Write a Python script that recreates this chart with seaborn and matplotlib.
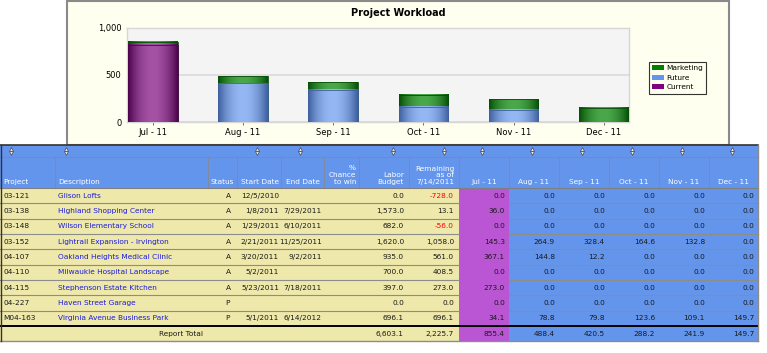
import matplotlib.pyplot as plt
import matplotlib.colors as mcolors
import numpy as np
import pandas as pd
import seaborn as sns
from matplotlib.patches import Patch, Rectangle
from matplotlib.ticker import FuncFormatter

plt.rcParams['font.family'] = ['DejaVu Sans']

# Chart data (hours per month)
months = ['Jul - 11', 'Aug - 11', 'Sep - 11', 'Oct - 11', 'Nov - 11', 'Dec - 11']
current = [821.3, 0.0, 0.0, 0.0, 0.0, 0.0]
future = [0.0, 409.7, 340.6, 164.6, 132.8, 0.0]
marketing = [34.1, 78.8, 79.8, 123.6, 109.1, 149.7]

# Table data
projects = ['03-121', '03-138', '03-148', '03-152', '04-107', '04-110', '04-115', '04-227', 'M04-163']
descriptions = ['Glison Lofts', 'Highland Shopping Center', 'Wilson Elementary School',
                'Lightrail Expansion - Irvington', 'Oakland Heights Medical Clinic',
                'Milwaukie Hospital Landscape', 'Stephenson Estate Kitchen', 'Haven Street Garage',
                'Virginia Avenue Business Park']
status = ['A', 'A', 'A', 'A', 'A', 'A', 'A', 'P', 'P']
start_dates = ['12/5/2010', '1/8/2011', '1/29/2011', '2/21/2011', '3/20/2011', '5/2/2011', '5/23/2011', '', '5/1/2011']
end_dates = ['', '7/29/2011', '6/10/2011', '11/25/2011', '9/2/2011', '', '7/18/2011', '', '6/14/2012']
labor_budget = [0.0, 1573.0, 682.0, 1620.0, 935.0, 700.0, 397.0, 0.0, 696.1]
remaining = [-728.0, 13.1, -56.0, 1058.0, 561.0, 408.5, 273.0, 0.0, 696.1]
jul = [0.0, 36.0, 0.0, 145.3, 367.1, 0.0, 273.0, 0.0, 34.1]
aug = [0.0, 0.0, 0.0, 264.9, 144.8, 0.0, 0.0, 0.0, 78.8]
sep = [0.0, 0.0, 0.0, 328.4, 12.2, 0.0, 0.0, 0.0, 79.8]
oct_ = [0.0, 0.0, 0.0, 164.6, 0.0, 0.0, 0.0, 0.0, 123.6]
nov = [0.0, 0.0, 0.0, 132.8, 0.0, 0.0, 0.0, 0.0, 109.1]
dec = [0.0, 0.0, 0.0, 0.0, 0.0, 0.0, 0.0, 0.0, 149.7]
total_budget = 6603.1
total_remaining = 2225.7
total_months = [855.4, 488.4, 420.5, 288.2, 241.9, 149.7]

W, H = 767, 353
BLUE = '#6495ED'
GOLD = '#EEE8AA'
ORCHID = '#BA55D3'
FS = 5.3


def px(l, t, r, b):
    return [l / W, 1 - b / H, (r - l) / W, (b - t) / H]


fig = plt.figure(figsize=(W / 100, H / 100), dpi=100)

# ---------- background + table (pixel coordinates) ----------
bg = fig.add_axes([0, 0, 1, 1], zorder=0)
bg.set_xlim(0, W)
bg.set_ylim(H, 0)
bg.axis('off')
bg.add_patch(Rectangle((67, 0.5), 662, 144.5, fc='#FFFFF0', ec='#8a8a8a', lw=1.5))

edges = [0, 55, 208, 237, 281, 324, 359, 409, 459, 509, 559, 609, 659, 709, 758]
sort_top, head_top, body_top, row_h = 145, 157, 188, 15.35
n = len(projects)
total_top = body_top + n * row_h
total_bot = total_top + 15

bg.add_patch(Rectangle((0, sort_top), 758, head_top - sort_top, fc=BLUE, lw=0))
bg.add_patch(Rectangle((0, head_top), 758, body_top - head_top, fc=BLUE, lw=0))
bg.add_patch(Rectangle((0, body_top), 459, total_bot - body_top, fc=GOLD, lw=0))
bg.add_patch(Rectangle((459, body_top), 50, total_bot - body_top, fc=ORCHID, lw=0))
bg.add_patch(Rectangle((509, body_top), 249, total_bot - body_top, fc=BLUE, lw=0))

for e in edges[1:-1]:
    bg.plot([e, e], [head_top, body_top], color='#7f8aa0', lw=0.8)
bg.plot([0, 758], [head_top, head_top], color='#7f8aa0', lw=0.8)
bg.plot([0, 758], [body_top, body_top], color='#7f7f7f', lw=0.8)
for i in range(1, n):
    y = body_top + i * row_h
    bg.plot([0, 459], [y, y], color='#8c8c8c', lw=0.8)
    bg.plot([509, 758], [y, y], color='#8c8c8c', lw=0.8)
bg.plot([0, 758], [total_top, total_top], color='black', lw=1.4)
bg.plot([0, 758], [total_bot, total_bot], color='#8c8c8c', lw=1.0)
bg.plot([0, 758], [sort_top, sort_top], color='#333333', lw=1.2)
bg.plot([0.5, 0.5], [sort_top, total_bot], color='#333333', lw=1.0)
bg.plot([758, 758], [sort_top, total_bot], color='#8c8c8c', lw=1.0)

# sort arrows
for xa in [11, 66, 257, 300, 393, 444, 482, 532, 582, 632, 682, 732]:
    bg.plot(xa, 149.4, marker='^', ms=2.8, mfc='#e8e8e8', mec='#333333', mew=0.4)
    bg.plot(xa, 152.8, marker='v', ms=2.8, mfc='#e8e8e8', mec='#333333', mew=0.4)

# header labels
hy = 185
bg.text(3, hy, 'Project', color='white', fontsize=FS, ha='left', va='bottom')
bg.text(58, hy, 'Description', color='white', fontsize=FS, ha='left', va='bottom')
bg.text(234, hy, 'Status', color='white', fontsize=FS, ha='right', va='bottom')
bg.text(241, hy, 'Start Date', color='white', fontsize=FS, ha='left', va='bottom')
bg.text(286, hy, 'End Date', color='white', fontsize=FS, ha='left', va='bottom')
bg.text(356, hy, '%\nChance\nto win', color='white', fontsize=FS, ha='right', va='bottom',
        multialignment='right', linespacing=1.15)
bg.text(404, hy, 'Labor\nBudget', color='white', fontsize=FS, ha='right', va='bottom',
        multialignment='right', linespacing=1.15)
bg.text(454, hy, 'Remaining\nas of\n7/14/2011', color='white', fontsize=FS, ha='right', va='bottom',
        multialignment='right', linespacing=1.15)
for j, m in enumerate(months):
    bg.text((edges[8 + j] + edges[9 + j]) / 2, hy, m, color='white', fontsize=FS, ha='center', va='bottom')

month_cols = [jul, aug, sep, oct_, nov, dec]
txt = '#1a1a1a'
for i in range(n):
    yc = body_top + (i + 0.5) * row_h
    bg.text(3, yc, projects[i], color=txt, fontsize=FS, ha='left', va='center')
    bg.text(58, yc, descriptions[i], color='#1c1cdc', fontsize=FS, ha='left', va='center')
    bg.text(228, yc, status[i], color=txt, fontsize=FS, ha='center', va='center')
    bg.text(279, yc, start_dates[i], color=txt, fontsize=FS, ha='right', va='center')
    bg.text(322, yc, end_dates[i], color=txt, fontsize=FS, ha='right', va='center')
    bg.text(404, yc, f'{labor_budget[i]:,.1f}', color=txt, fontsize=FS, ha='right', va='center')
    bg.text(454, yc, f'{remaining[i]:,.1f}', color='red' if remaining[i] < 0 else txt,
            fontsize=FS, ha='right', va='center')
    for j, col in enumerate(month_cols):
        bg.text(edges[9 + j] - 4, yc, f'{col[i]:,.1f}', color=txt, fontsize=FS, ha='right', va='center')

yc = (total_top + total_bot) / 2
bg.text(203, yc, 'Report Total', color=txt, fontsize=FS, ha='right', va='center')
bg.text(404, yc, f'{total_budget:,.1f}', color=txt, fontsize=FS, ha='right', va='center')
bg.text(454, yc, f'{total_remaining:,.1f}', color=txt, fontsize=FS, ha='right', va='center')
for j, v in enumerate(total_months):
    bg.text(edges[9 + j] - 4, yc, f'{v:,.1f}', color=txt, fontsize=FS, ha='right', va='center')

# ---------- chart ----------
ax = fig.add_axes(px(127, 28, 629, 122), zorder=1)
df = pd.DataFrame({'month': months, 'current': current, 'future': future, 'marketing': marketing})
df['total'] = df['current'] + df['future'] + df['marketing']

layers = [('total', '#008000', ('#064f06', '#4aa84a')),
          ('future', BLUE, ('#3f5f9e', '#95b8f4')),
          ('current', '#800080', ('#4e044e', '#a452a4'))]
for k, (col, color, (dark, light)) in enumerate(layers):
    before = len(ax.patches)
    sns.barplot(data=df, x='month', y=col, color=color, width=0.55, saturation=1,
                errorbar=None, ax=ax, zorder=3 + k)
    dark_rgb = np.array(mcolors.to_rgb(dark))
    light_rgb = np.array(mcolors.to_rgb(light))
    t = np.linspace(-1, 1, 80)
    mix = np.clip(1 - np.abs(t) ** 2.0, 0, 1)[:, None]
    grad = (dark_rgb + (light_rgb - dark_rgb) * mix)[None, :, :]
    for p in ax.patches[before:]:
        h = p.get_height()
        if h <= 0:
            p.set_visible(False)
            continue
        x0, y0, w = p.get_x(), p.get_y(), p.get_width()
        ax.imshow(grad, extent=[x0, x0 + w, y0, y0 + h], aspect='auto', origin='lower',
                  interpolation='bilinear', zorder=3 + k - 0.05)
        p.set_facecolor('none')
        p.set_edgecolor(dark)
        p.set_linewidth(0.6)

ax.set_xlim(-0.285, 5.28)
ax.set_ylim(0, 1000)
ax.set_facecolor('#F4F4F4')
ax.set_xlabel('')
ax.set_ylabel('')
ax.set_yticks([0, 500, 1000])
ax.yaxis.set_major_formatter(FuncFormatter(lambda v, _: f'{v:,.0f}'))
ax.grid(axis='y', color='#dcdcdc', lw=1.3, zorder=0)
ax.set_axisbelow(True)
ax.tick_params(axis='y', length=0, labelsize=6, pad=4)
ax.tick_params(axis='x', length=2.5, width=0.6, color='#555555', labelsize=6, pad=1.5)
for s in ax.spines.values():
    s.set_color('#d6d6d6')
    s.set_linewidth(1.0)

fig.text(398 / W, 1 - 13 / H, 'Project Workload', fontsize=7, fontweight='bold', ha='center', va='center')

handles = [Patch(fc='#008000', ec='none', label='Marketing'),
           Patch(fc=BLUE, ec='none', label='Future'),
           Patch(fc='#800080', ec='none', label='Current')]
leg = fig.legend(handles=handles, loc='upper left', bbox_to_anchor=(649 / W, 1 - 62 / H),
                 fontsize=5.3, frameon=True, fancybox=False, handlelength=1.6, handleheight=0.7,
                 handletextpad=0.3, labelspacing=0.45, borderpad=0.45, borderaxespad=0)
leg.get_frame().set_edgecolor('black')
leg.get_frame().set_linewidth(0.8)
leg.get_frame().set_facecolor('#FFFFF0')

fig.savefig('out.png', dpi=100)
